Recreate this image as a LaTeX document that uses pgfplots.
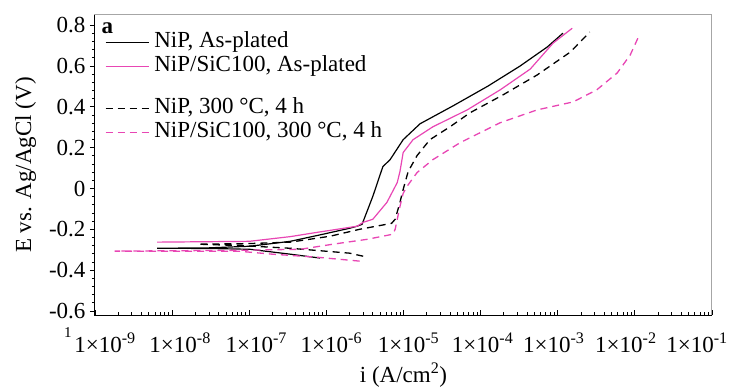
\documentclass[border=0pt]{standalone}
\usepackage{fontspec}
\setmainfont{Liberation Serif}
\usepackage{pgfplots}
\pgfplotsset{compat=1.18}
\definecolor{pk}{RGB}{232,70,180}
\begin{document}
\begin{tikzpicture}[font=\fontsize{23}{26}\selectfont]
\begin{axis}[
  scale only axis, width=617pt, height=300pt,
  xmode=log, xmin=1e-9, xmax=1e-1,
  ymin=-0.62, ymax=0.85,
  xtick={1e-9,1e-8,1e-7,1e-6,1e-5,1e-4,1e-3,1e-2,1e-1},
  xticklabels={\hspace*{20pt}1×10\textsuperscript{-9},\hspace*{16pt}1×10\textsuperscript{-8},\hspace*{14pt}1×10\textsuperscript{-7},\hspace*{10pt}1×10\textsuperscript{-6},\hspace*{10pt}1×10\textsuperscript{-5},\hspace*{4pt}1×10\textsuperscript{-4},1×10\textsuperscript{-3}\hspace*{8pt},1×10\textsuperscript{-2}\hspace*{18pt},1×10\textsuperscript{-1}\hspace*{30pt}},
  ytick={-0.6,-0.4,-0.2,0,0.2,0.4,0.6,0.8},
  yticklabels={-0.6,-0.4,-0.2,0,0.2,0.4,0.6,0.8},
  minor y tick num=4,
  xtick pos=bottom, ytick pos=left,
  tick align=inside,
  major tick length=5pt, minor tick length=3pt,
  every major y tick/.append style={xshift=-5pt},
  every minor y tick/.append style={xshift=-3pt},
  tick style={black, line width=0.8pt},
  axis line style={gray!70, line width=1pt},
  xticklabel style={yshift=-14pt},
  yticklabel style={xshift=-6pt},
  xlabel={i (A/cm\textsuperscript{2})},
  ylabel={E vs. Ag/AgCl (V)},
  xlabel style={yshift=-3pt},
  ylabel style={yshift=6pt},
  legend cell align=left,
  legend style={at={(rel axis cs:0.016,0.945)}, anchor=north west, draw=none, fill=none,
    row sep=2pt, inner sep=0pt, font=\fontsize{23}{26}\selectfont,
    nodes={text height=14pt, text depth=4pt}},
  legend image code/.code={\draw[line width=1.3pt,#1] (0pt,0pt) -- (43pt,0pt); \path (46pt,0pt);},
  clip=false,
]
\addplot[black, line width=1.2pt] coordinates {
(8.3e-7,-0.341) (3.4e-7,-0.322) (1.02e-7,-0.298) (3e-8,-0.294) (6.4e-9,-0.293)
(3e-8,-0.291) (1.02e-7,-0.283) (3.4e-7,-0.259) (9.1e-7,-0.224) (2.0e-6,-0.195)
(2.5e-6,-0.185) (2.9e-6,-0.176) (4.0e-6,-0.039) (5.4e-6,0.107) (6.7e-6,0.141)
(9.9e-6,0.239) (1.64e-5,0.317) (4.4e-5,0.405) (1.25e-4,0.502) (3.25e-4,0.600)
(7.3e-4,0.693) (1.17e-3,0.761)};
\addlegendentry{NiP, As-plated}
\addplot[pk, line width=1.2pt] coordinates {
(6.4e-9,-0.263) (1.0e-7,-0.259) (3.4e-7,-0.236) (7.6e-7,-0.215) (2.5e-6,-0.185)
(3.0e-6,-0.166) (4.0e-6,-0.151) (6.1e-6,-0.068) (8.3e-6,0.029) (9.0e-6,0.083)
(9.9e-6,0.176) (1.33e-5,0.239) (2.4e-5,0.302) (6.7e-5,0.385) (1.79e-4,0.483)
(4.4e-4,0.585) (8.7e-4,0.712) (1.54e-3,0.785)};
\addlegendentry{NiP/SiC100, As-plated}
\addlegendimage{empty legend}
\addlegendentry[text height=12pt, text depth=0pt]{}
\addplot[black, line width=1.3pt, dash pattern=on 7pt off 5pt] coordinates {
(3.0e-6,-0.332) (2.0e-6,-0.317) (3.4e-7,-0.293) (8e-8,-0.280) (2.17e-8,-0.273)
(1e-7,-0.270) (3.4e-7,-0.263) (1.12e-6,-0.234) (2.7e-6,-0.200) (7.0e-6,-0.171)
(7.8e-6,-0.151) (9.0e-6,-0.068) (9.9e-6,-0.005) (1.15e-5,0.083) (1.5e-5,0.161)
(2.2e-5,0.239) (4.0e-5,0.302) (7.3e-5,0.371) (1.96e-4,0.459) (5.4e-4,0.556)
(1.45e-3,0.668) (2.6e-3,0.766)};
\addlegendentry{NiP, 300 °C, 4 h}
\addplot[pk, line width=1.3pt, dash pattern=on 7pt off 5pt] coordinates {
(2.7e-6,-0.356) (7.6e-7,-0.337) (2.0e-7,-0.322) (7.6e-8,-0.308) (1.8e-9,-0.307)
(7.6e-8,-0.303) (4.6e-7,-0.298) (1.22e-6,-0.273) (3.4e-6,-0.249) (7.3e-6,-0.224)
(7.8e-6,-0.200) (9.0e-6,-0.088) (9.9e-6,-0.024) (1.11e-5,0.010) (1.5e-5,0.078)
(2.4e-5,0.141) (5.4e-5,0.224) (1.79e-4,0.322) (5.4e-4,0.385) (1.58e-3,0.424)
(3.2e-3,0.483) (5.9e-3,0.566) (8.7e-3,0.654) (1.14e-2,0.751)};
\addlegendentry{NiP/SiC100, 300 °C, 4 h}
\draw[black, line width=1pt] (rel axis cs:0,1) -- (rel axis cs:0,0) -- (rel axis cs:1,0);
\node[anchor=west, font=\fontsize{23}{26}\selectfont\bfseries] at (rel axis cs:0.005,0.957) {a};
\node[font=\fontsize{15}{17}\selectfont] at (rel axis cs:-0.044,0) [yshift=-18pt] {1};
\end{axis}
\pgfresetboundingbox
\path[use as bounding box] (-95pt,-74pt) rectangle (634pt,315pt);
\end{tikzpicture}
\end{document}
